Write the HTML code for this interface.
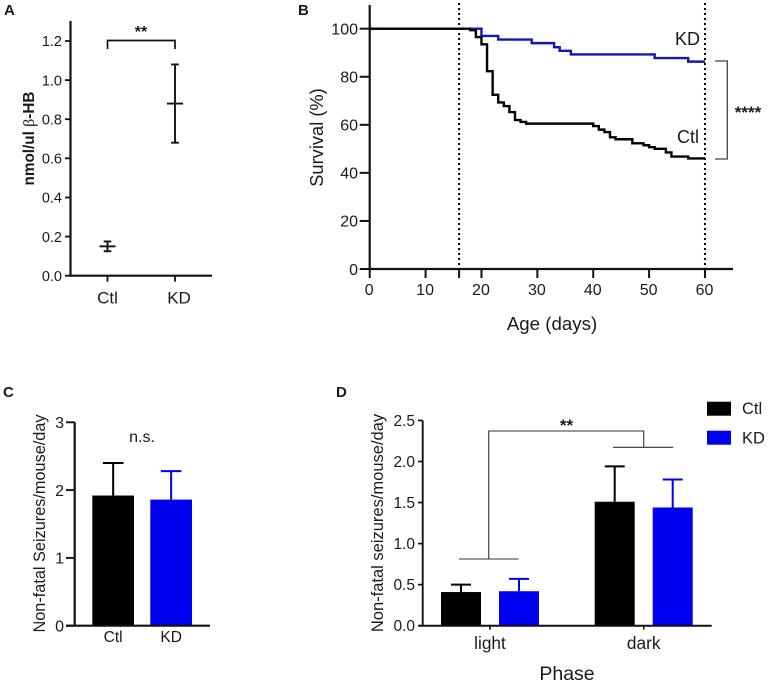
<!DOCTYPE html>
<html>
<head>
<meta charset="utf-8">
<title>Ketogenic diet survival and seizure panels</title>
<style>
html,body{margin:0;padding:0;background:#fff;width:768px;height:684px;overflow:hidden}
svg{display:block;font-family:"Liberation Sans",sans-serif;fill:#1a1a1a}
</style>
</head>
<body>
<svg id="fig" width="768" height="684" viewBox="0 0 768 684" xmlns="http://www.w3.org/2000/svg">
  <text x="4" y="15" font-size="15" font-weight="bold">A</text>
  <text x="298" y="15" font-size="15" font-weight="bold">B</text>
  <text x="3" y="397" font-size="15" font-weight="bold">C</text>
  <text x="336" y="397" font-size="15" font-weight="bold">D</text>

  <text transform="translate(34,138.5) rotate(-90)" text-anchor="middle" font-size="15.3" font-weight="bold">nmol/ul <tspan font-family="Liberation Serif" font-weight="normal" font-size="16">β</tspan>-HB</text>
  <path d="M107.5 49V40.5H175V49" fill="none" stroke="#111" stroke-width="1.7"/>
  <text x="141" y="37" text-anchor="middle" font-size="16" font-weight="bold">**</text>

  <text transform="translate(323,137.5) rotate(-90)" text-anchor="middle" font-size="18.3">Survival (%)</text>
  <text x="552" y="330" text-anchor="middle" font-size="18.7">Age (days)</text>
  <text x="675" y="45" font-size="18">KD</text>
  <text x="677" y="143" font-size="18">Ctl</text>
  <path d="M715 61H727.3V159H715" fill="none" stroke="#444" stroke-width="1.3"/>
  <text x="748" y="118" text-anchor="middle" font-size="17" font-weight="bold">****</text>

  <text transform="translate(45,523.5) rotate(-90)" text-anchor="middle" font-size="16.3">Non-fatal Seizures/mouse/day</text>
  <text x="142" y="442" text-anchor="middle" font-size="16">n.s.</text>

  <text transform="translate(383,523) rotate(-90)" text-anchor="middle" font-size="16.5">Non-fatal seizures/mouse/day</text>
  <text x="567" y="680" text-anchor="middle" font-size="19.5">Phase</text>
  <path d="M459 559H518.7M488.7 559V431H643.7V447.3M613 447.3H673.3" fill="none" stroke="#333" stroke-width="1.1"/>
  <text x="566.5" y="431" text-anchor="middle" font-size="17" font-weight="bold">**</text>

  <rect x="707" y="401.7" width="24" height="14" fill="#000"/>
  <text x="742" y="414" font-size="16.5">Ctl</text>
  <rect x="707" y="430.7" width="24" height="14" fill="#0000f0"/>
  <text x="742" y="443.5" font-size="16.5">KD</text>
</svg>
<script>
// Panel A data
var aCategories = ['Ctl', 'KD'];
var aMeans = [0.15, 0.88];
var aLower = [0.125, 0.68];
var aUpper = [0.175, 1.08];
var aTicks = [0, 0.2, 0.4, 0.6, 0.8, 1.0, 1.2];

// Panel B data: each series holds the value in force from that day onward
var bTicksX = [0, 10, 20, 30, 40, 50, 60];
var bTicksY = [0, 20, 40, 60, 80, 100];
var bMarkerDays = [16, 60];
var bKdDays = [0, 20, 23, 29, 33, 34, 36, 51, 57, 60];
var bKdSurvival = [100, 97, 95.5, 94, 92.3, 90.8, 89.3, 87.8, 86.3, 86.3];
var bCtlDays = [0, 18, 19, 20, 21, 22, 23, 24, 25, 26, 27, 28, 40, 41, 42, 43, 44, 47, 49, 50, 51, 53, 54, 57, 60];
var bCtlSurvival = [100, 99.4, 96.5, 93.5, 82.3, 72.5, 69.3, 67.8, 65.3, 62, 61.2, 60.5, 59.5, 58, 57, 54.8, 54, 52.3, 51.5, 50.7, 50, 48.5, 46.8, 46, 46];

// Panel C data
var cCategories = ['Ctl', 'KD'];
var cMeans = [1.92, 1.86];
var cUpper = [2.40, 2.28];
var cTicks = [0, 1, 2, 3];

// Panel D data
var dPhases = ['light', 'dark'];
var dCtlMeans = [0.41, 1.51];
var dKdMeans = [0.42, 1.44];
var dCtlUpper = [0.50, 1.94];
var dKdUpper = [0.57, 1.78];
var dTicks = [0, 0.5, 1.0, 1.5, 2.0, 2.5];

var svg = document.getElementById('fig');
var NS = 'http://www.w3.org/2000/svg';
var BLACK = '#000';
var BLUE_BAR = '#0000f0';
var BLUE_LINE = '#1414b8';

function make(tag, props) {
  var el = document.createElementNS(NS, tag);
  for (var k in props) { el.setAttribute(k, props[k]); }
  svg.appendChild(el);
  return el;
}
function segment(x1, y1, x2, y2, color, width) {
  return make('line', {x1: x1, y1: y1, x2: x2, y2: y2, stroke: color, 'stroke-width': width});
}
function label(x, y, text, size, anchor) {
  var t = make('text', {x: x, y: y, 'font-size': size, 'text-anchor': anchor});
  t.textContent = text;
  return t;
}
function stepPath(days, values, sx, sy) {
  var d = 'M' + sx(days[0]) + ' ' + sy(values[0]);
  for (var i = 1; i < days.length; i++) {
    d += 'H' + sx(days[i]) + 'V' + sy(values[i]);
  }
  return d;
}

/* ---------- Panel A ---------- */
function aY(v) { return 275.7 - v * 195.6; }
function aX(i) { return 107.5 + i * 67.5; }
var aAxisY = segment(70.5, 21, 70.5, aY(0) + 1, '#111', 2.2);


var aAxisX = segment(70, aY(0), 212, aY(0), '#111', 2.2);


aTicks.forEach(function (v) {
  var tick = segment(65, aY(v), 70.5, aY(v), '#111', 1.8);
  
  
  var txt = label(62, aY(v) + 5.2, v.toFixed(1), 14.5, 'end');
  
  
});
aCategories.forEach(function (name, i) {
  var tick = segment(aX(i), aY(0), aX(i), aY(0) + 6, '#111', 1.8);
  
  
  var txt = label(aX(i) + (i ? 4 : 0), 303.5, name, 17, 'middle');
  
  
  var whisker = segment(aX(i), aY(aLower[i]), aX(i), aY(aUpper[i]), '#111', 1.9);
  
  
  var capTop = segment(aX(i) - 3.8, aY(aUpper[i]), aX(i) + 3.8, aY(aUpper[i]), '#111', 1.9);
  
  
  var capLow = segment(aX(i) - 3.8, aY(aLower[i]), aX(i) + 3.8, aY(aLower[i]), '#111', 1.9);
  
  
  var mean = segment(aX(i) - 8, aY(aMeans[i]), aX(i) + 8, aY(aMeans[i]), '#111', 1.9);
  
  
});

/* ---------- Panel B ---------- */
function bX(d) { return 369.7 + d * 5.588; }
function bY(v) { return 269 - v * 2.403; }
var bAxisY = segment(bX(0), 5, bX(0), bY(0) + 1, '#111', 2.2);


var bAxisX = segment(bX(0) - 1, bY(0), 733, bY(0), '#111', 2.2);


bTicksY.forEach(function (v) {
  var tick = segment(bX(0) - 10, bY(v), bX(0), bY(v), '#111', 2);
  
  
  var txt = label(358, bY(v) + 5.8, String(v), 16, 'end');
  
  
});
bTicksX.forEach(function (v) {
  var tick = segment(bX(v), bY(0), bX(v), bY(0) + 9, '#111', 2);
  
  
  var txt = label(bX(v) - 0.5, 295, String(v), 16, 'middle');
  
  
});
bMarkerDays.forEach(function (day) {
  var tick = segment(bX(day), bY(0), bX(day), bY(0) + 9, '#111', 2);
  
  
  var guide = segment(bX(day), 3, bX(day), bY(0), '#000', 2);
  guide.setAttribute('stroke-dasharray', '2 3');
  
  
});
var kdCurve = make('path', {d: stepPath(bKdDays, bKdSurvival, bX, bY), fill: 'none', stroke: BLUE_LINE, 'stroke-width': 2.4});


var ctlCurve = make('path', {d: stepPath(bCtlDays, bCtlSurvival, bX, bY), fill: 'none', stroke: '#000', 'stroke-width': 2.4});



/* ---------- Panel C ---------- */
function cY(v) { return 625.7 - v * 67.8; }
function cX(i) { return 92.3 + i * 58; }
var cBarW = 41.7;
cCategories.forEach(function (name, i) {
  var color = i ? BLUE_BAR : BLACK;
  var centre = cX(i) + cBarW / 2;
  var whisker = segment(centre, cY(cUpper[i]), centre, cY(cMeans[i]), color, 2);
  
  
  var cap = segment(centre - 10.3, cY(cUpper[i]), centre + 10.3, cY(cUpper[i]), color, 2);
  
  
  var bar = make('rect', {x: cX(i), y: cY(cMeans[i]), width: cBarW, height: cY(0) - cY(cMeans[i]), fill: color});
  
  
  var txt = label(centre, 642, name, 15.5, 'middle');
  
  
});
var cAxisY = segment(74.7, cY(3), 74.7, cY(0), '#111', 2.2);


var cAxisX = segment(66, cY(0), 210, cY(0), '#111', 2.2);


cTicks.forEach(function (v) {
  var tick = segment(66, cY(v), 74.7, cY(v), '#111', 1.9);
  
  
  var txt = label(64, cY(v) + 5.8, String(v), 16, 'end');
  
  
});

/* ---------- Panel D ---------- */
function dY(v) { return 625.7 - v * 82.1; }
function dX(i) { return 490 + i * 153.7; }
var dBarW = 40;
function dBar(left, mean, upper, color, kind) {
  var centre = left + dBarW / 2;
  var whisker = segment(centre, dY(upper), centre, dY(mean), color, 2);
  
  
  var cap = segment(centre - 10, dY(upper), centre + 10, dY(upper), color, 2);
  
  
  var bar = make('rect', {x: left, y: dY(mean), width: dBarW, height: dY(0) - dY(mean), fill: color});
  
  
}
dPhases.forEach(function (name, i) {
  dBar(dX(i) - 49, dCtlMeans[i], dCtlUpper[i], BLACK, 'ctl');
  dBar(dX(i) + 9, dKdMeans[i], dKdUpper[i], BLUE_BAR, 'kd');
  var tick = segment(dX(i), dY(0), dX(i), dY(0) + 4, '#111', 1.6);
  
  
  var txt = label(dX(i), 649, name, 17.3, 'middle');
  
  
});
var dAxisY = segment(422.7, dY(2.5), 422.7, dY(0), '#111', 1.9);


var dAxisX = segment(419, dY(0), 711.7, dY(0), '#111', 2);


dTicks.forEach(function (v) {
  var tick = segment(418, dY(v), 422.7, dY(v), '#111', 1.7);
  
  
  var txt = label(415, dY(v) + 5.5, v.toFixed(1), 15.5, 'end');
  
  
});
</script>
</body>
</html>
